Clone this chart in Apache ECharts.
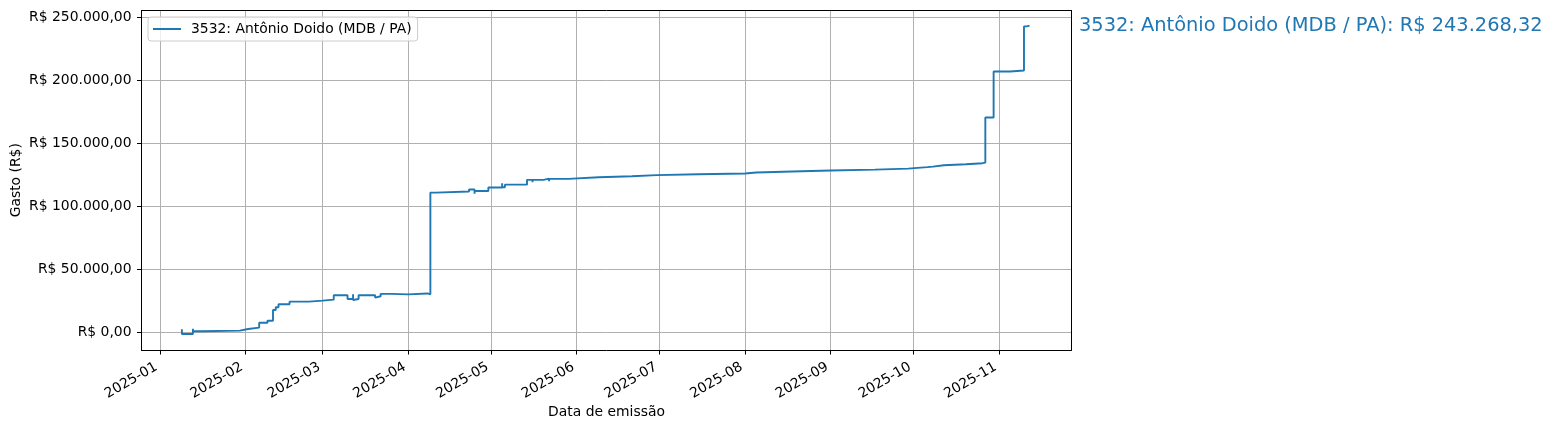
<!DOCTYPE html>
<html><head><meta charset="utf-8">
<script src="https://cdn.jsdelivr.net/npm/echarts@6/dist/echarts.min.js"></script>
<style>html,body{margin:0;padding:0;background:#fff}#c{width:1555px;height:430px}</style>
</head><body><div id="c"></div>
<script>
const seriesName = '3532: Antônio Doido (MDB / PA)';
const xAxisTitle = 'Data de emissão';
const yAxisTitle = 'Gasto (R$)';
const dates = [
 '2025-01-09','2025-01-09','2025-01-13','2025-01-13','2025-01-16','2025-01-30','2025-02-02','2025-02-06','2025-02-06','2025-02-09',
 '2025-02-11','2025-02-12','2025-02-13','2025-02-17','2025-02-24','2025-03-01','2025-03-05','2025-03-10','2025-03-12','2025-03-12',
 '2025-03-12','2025-03-14','2025-03-20','2025-03-20','2025-03-22','2025-03-26','2025-04-01','2025-04-08','2025-04-09','2025-04-11',
 '2025-04-23','2025-04-25','2025-04-25','2025-04-30','2025-05-05','2025-05-05','2025-05-06','2025-05-14','2025-05-16','2025-05-16',
 '2025-05-20','2025-05-22','2025-05-22','2025-05-29','2025-06-09','2025-06-21','2025-06-30','2025-07-15','2025-08-01','2025-08-05',
 '2025-08-18','2025-09-01','2025-09-17','2025-09-29','2025-10-06','2025-10-08','2025-10-12','2025-10-20','2025-10-26','2025-10-27',
 '2025-10-30','2025-11-05','2025-11-10','2025-11-11','2025-11-12'
];
const cumulative = [
 2400,-1350,2900,800,1300,2600,3700,5800,7600,9200,
 17700,19800,22200,24300,25100,25900,29400,26400,30200,25600,
 26400,29400,27500,28600,30500,30100,30800,30100,110800,111600,
 113200,109800,112100,114800,118200,115000,117100,120900,119000,120900,
 121900,119800,121700,123000,123800,124600,125300,125900,126700,127500,
 128300,129000,129800,131000,131400,132500,133300,134100,134600,170300,
 206800,207600,242600,243268.32,243268.32
];
const monthTicks = ['2025-01-01','2025-02-01','2025-03-01','2025-04-01','2025-05-01','2025-06-01','2025-07-01','2025-08-01','2025-09-01','2025-10-01','2025-11-01'];
const yTicks = [0, 50000, 100000, 150000, 200000, 250000];

function ts(s){ const p = s.split('-').map(Number); return Date.UTC(p[0], p[1]-1, p[2]); }
function fmtBRL(v){
  const neg = v < 0; v = Math.abs(v);
  const fixed = v.toFixed(2); const parts = fixed.split('.');
  const intp = parts[0].replace(/\B(?=(\d{3})+(?!\d))/g, '.');
  return 'R$ ' + (neg ? '-' : '') + intp + ',' + parts[1];
}
function fmtMonth(t){ const d = new Date(t); return d.getUTCFullYear() + '-' + String(d.getUTCMonth()+1).padStart(2,'0'); }

const FONT = 'DejaVu Sans';
const FS = 13.9;
const X_MIN = Date.UTC(2024, 11, 25, 9), X_MAX = Date.UTC(2025, 10, 27, 5);
const Y_MIN = -14050, Y_MAX = 255200;
const chart = echarts.init(document.getElementById('c'));
const monthTs = monthTicks.map(ts);
const frameAxis = { show: true, onZero: false, lineStyle: { color: '#000', width: 1 } };
chart.setOption({
  animation: false,
  backgroundColor: '#fff',
  textStyle: { fontFamily: FONT },
  grid: { left: 141.5, right: 483.5, top: 10.5, bottom: 80, show: false, outerBoundsMode: 'none', containLabel: false },
  legend: {
    left: 148, top: 17, orient: 'horizontal',
    data: [{ name: seriesName, icon: 'rect' }],
    itemWidth: 28, itemHeight: 2,
    padding: [5, 6, 5, 5],
    borderColor: '#cccccc', borderWidth: 1, borderRadius: 3, backgroundColor: 'rgba(255,255,255,0.8)',
    textStyle: { fontFamily: FONT, fontSize: FS, color: '#000', padding: [0, 0, 0, 5] }
  },
  xAxis: [{
    type: 'value', scale: true, position: 'bottom',
    min: X_MIN, max: X_MAX,
    name: xAxisTitle, nameLocation: 'middle', nameGap: 55, nameMoveOverlap: false,
    nameTextStyle: { fontFamily: FONT, fontSize: FS, color: '#000' },
    axisLine: frameAxis,
    axisTick: { show: true, customValues: monthTs, length: 4.5, lineStyle: { color: '#000', width: 1 } },
    axisLabel: { customValues: monthTs, rotate: 30, margin: 14, padding: [0, 4, 0, 0], fontFamily: FONT, fontSize: FS, color: '#000', formatter: v => fmtMonth(v), hideOverlap: false },
    splitLine: { show: true, lineStyle: { color: '#b0b0b0', width: 1 } }
  }, {
    type: 'value', scale: true, position: 'top', min: X_MIN, max: X_MAX,
    axisLine: frameAxis, axisTick: { show: false }, axisLabel: { show: false }, splitLine: { show: false }
  }],
  yAxis: [{
    type: 'value', min: Y_MIN, max: Y_MAX, scale: true, position: 'left',
    name: yAxisTitle, nameLocation: 'middle', nameGap: 118, nameRotate: 90, nameMoveOverlap: false,
    nameTextStyle: { fontFamily: FONT, fontSize: FS, color: '#000' },
    axisLine: frameAxis,
    axisTick: { show: true, customValues: yTicks, length: 4.5, lineStyle: { color: '#000', width: 1 } },
    axisLabel: { customValues: yTicks, margin: 10, fontFamily: FONT, fontSize: FS, color: '#000', formatter: v => fmtBRL(v) },
    splitLine: { show: true, lineStyle: { color: '#b0b0b0', width: 1 } }
  }, {
    type: 'value', min: Y_MIN, max: Y_MAX, scale: true, position: 'right',
    axisLine: frameAxis, axisTick: { show: false }, axisLabel: { show: false }, splitLine: { show: false }
  }],
  graphic: [{
    type: 'text', left: 1079, top: 16,
    style: { text: seriesName + ': ' + fmtBRL(cumulative[cumulative.length - 1]), fill: '#1f77b4', font: '19.4px "DejaVu Sans"' }
  }],
  series: [{
    name: seriesName, type: 'line', step: 'end', symbol: 'none', showSymbol: false,
    xAxisIndex: 0, yAxisIndex: 0,
    lineStyle: { color: '#1f77b4', width: 1.9 }, itemStyle: { color: '#1f77b4' },
    data: dates.map((d, i) => [ts(d), cumulative[i]])
  }]
});
</script></body></html>
